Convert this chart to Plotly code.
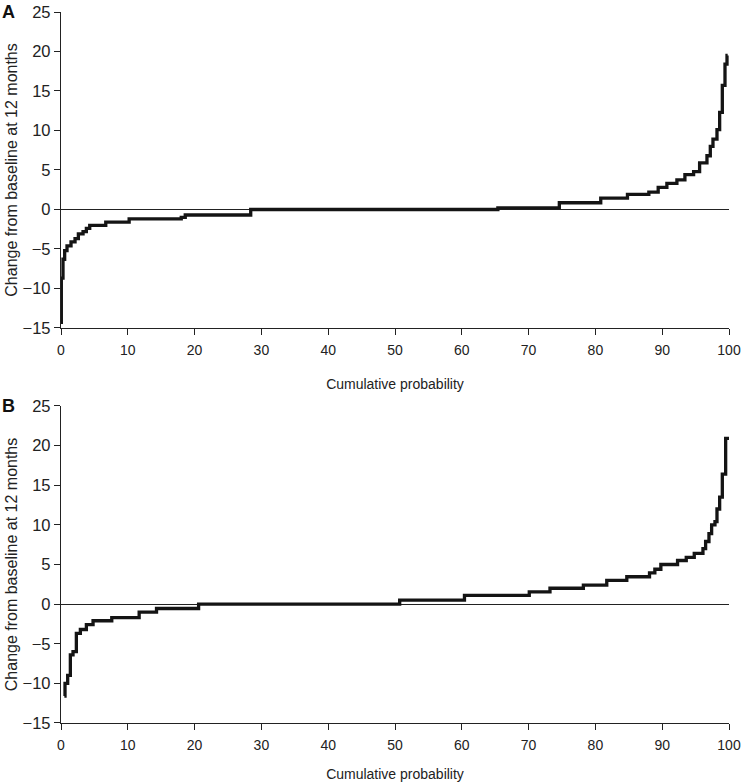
import plotly.graph_objects as go

# Panel A: cumulative probability (%) where each step begins, and change value
a_prob = [0, 0.05, 0.3, 0.55, 0.9, 1.5, 2.1, 2.6, 3.3, 3.8, 4.3, 6.7, 10.2, 18.0, 18.6,
          28.4, 65.4, 74.6, 80.8, 84.8, 88.0, 89.4, 90.7, 92.2, 93.4, 94.7, 95.6, 96.7,
          97.2, 97.6, 98.2, 98.6, 99.0, 99.4, 99.7, 99.8]
a_change = [-14.3, -8.7, -6.3, -5.2, -4.6, -4.1, -3.7, -3.1, -2.8, -2.4, -2.0, -1.6, -1.2,
            -1.0, -0.7, 0.0, 0.2, 0.85, 1.45, 1.9, 2.2, 2.8, 3.3, 3.75, 4.4, 4.8, 5.9, 6.8,
            8.0, 8.9, 10.1, 12.3, 15.7, 18.4, 19.5, 19.5]

# Panel B
b_prob = [0.5, 0.6, 1.0, 1.4, 1.8, 2.3, 2.9, 3.8, 4.8, 7.6, 11.7, 14.3, 20.6, 50.7, 60.4,
          70.1, 73.2, 78.2, 81.7, 84.7, 88.1, 88.9, 89.8, 92.3, 93.6, 94.8, 96.1, 96.5,
          97.0, 97.4, 97.9, 98.2, 98.6, 99.0, 99.5, 100]
b_change = [-11.6, -10.0, -9.0, -6.4, -6.0, -3.7, -3.2, -2.6, -2.1, -1.7, -1.0, -0.55, 0.0,
            0.5, 1.1, 1.55, 2.0, 2.4, 3.0, 3.45, 3.95, 4.4, 5.0, 5.5, 5.9, 6.4, 7.0, 7.9,
            8.9, 10.0, 10.4, 12.0, 13.5, 16.4, 20.9, 20.9]

x_ticks = [0, 10, 20, 30, 40, 50, 60, 70, 80, 90, 100]
y_ticks = [-15, -10, -5, 0, 5, 10, 15, 20, 25]
x_title = "Cumulative probability"
y_title = "Change from baseline at 12 months"
panel_labels = ["A", "B"]

FONT = "Liberation Sans, Arial, Helvetica, sans-serif"
LINE_COL = "#141414"
AX_COL = "#222"

fig = go.Figure()
fig.add_trace(go.Scatter(x=a_prob, y=a_change, mode="lines", line_shape="hv",
                         line=dict(color=LINE_COL, width=3.3), xaxis="x", yaxis="y",
                         showlegend=False, hoverinfo="skip", cliponaxis=False))
fig.add_trace(go.Scatter(x=b_prob, y=b_change, mode="lines", line_shape="hv",
                         line=dict(color=LINE_COL, width=3.3), xaxis="x2", yaxis="y2",
                         showlegend=False, hoverinfo="skip", cliponaxis=False))

xcommon = dict(range=[0, 100], tickmode="array", tickvals=x_ticks, showline=True,
               linecolor=AX_COL, linewidth=1.3, ticks="outside", ticklen=6, tickwidth=1.3,
               tickcolor=AX_COL, showgrid=False, zeroline=False, automargin=False,
               ticklabelstandoff=3,
               tickfont=dict(family=FONT, size=14, color=AX_COL),
               title=dict(text=x_title, font=dict(family=FONT, size=14, color=AX_COL),
                          standoff=22))
ycommon = dict(range=[-15, 25], tickmode="array", tickvals=y_ticks, showline=True,
               linecolor=AX_COL, linewidth=1.3, ticks="outside", ticklen=6, tickwidth=1.3,
               tickcolor=AX_COL, showgrid=False, zeroline=True, zerolinecolor=AX_COL,
               zerolinewidth=1.1, automargin=False,
               tickfont=dict(family=FONT, size=16.5, color=AX_COL),
               title=dict(text=y_title, font=dict(family=FONT, size=16, color=AX_COL),
                          standoff=0))

fig.update_layout(
    width=742, height=782,
    margin=dict(l=61, r=13, t=12, b=59, autoexpand=False),
    paper_bgcolor="white", plot_bgcolor="white",
    hovermode=False,
    xaxis=dict(domain=[0, 1], anchor="y", **xcommon),
    yaxis=dict(domain=[0.5556, 1], anchor="x", **ycommon),
    xaxis2=dict(domain=[0, 1], anchor="y2", **xcommon),
    yaxis2=dict(domain=[0, 0.4459], anchor="x2", **ycommon),
    annotations=[
        dict(text="<b>" + panel_labels[0] + "</b>", x=0, y=1, xref="paper", yref="paper",
             xshift=-61, showarrow=False, font=dict(family=FONT, size=18, color="#111"),
             xanchor="left", yanchor="middle"),
        dict(text="<b>" + panel_labels[1] + "</b>", x=0, y=0.4459, xref="paper", yref="paper",
             xshift=-61, showarrow=False, font=dict(family=FONT, size=18, color="#111"),
             xanchor="left", yanchor="middle"),
    ],
)

fig.write_html("out.html", config={"displayModeBar": False},
               post_script="document.body.style.margin='0';document.body.style.padding='0';")
